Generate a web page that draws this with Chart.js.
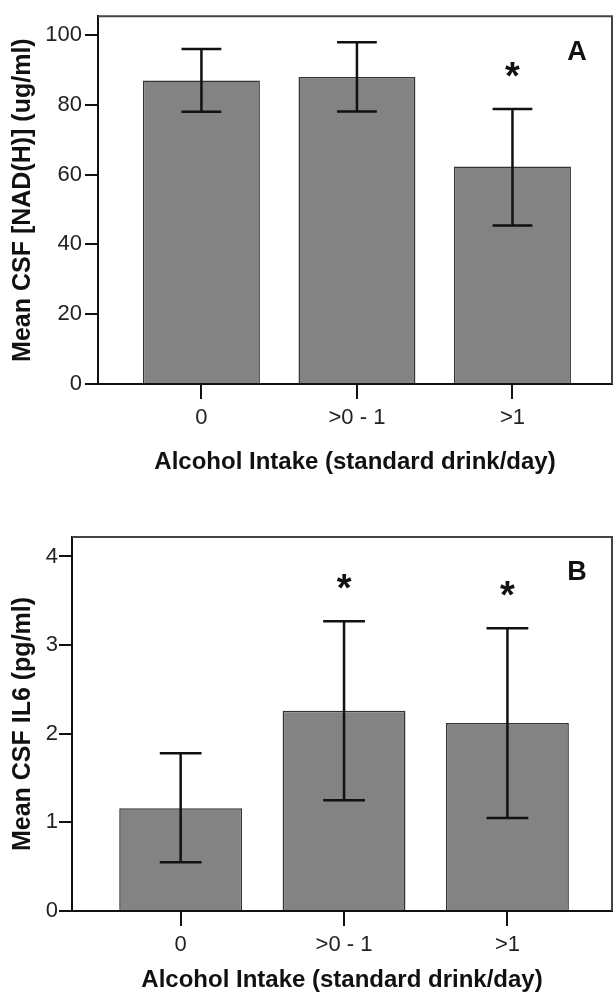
<!DOCTYPE html>
<html>
<head>
<meta charset="utf-8">
<script src="https://cdn.jsdelivr.net/npm/chart.js@4.4.1/dist/chart.umd.min.js"></script>
<style>
  html, body { margin: 0; padding: 0; background: #fff; }
  #wrap { position: relative; width: 613px; height: 1004px; }
  canvas { position: absolute; left: 0; }
  #nad { top: 0; }
  #il6 { top: 500px; }
</style>
</head>
<body>
<div id="wrap">
  <canvas id="nad" width="613" height="500"></canvas>
  <canvas id="il6" width="613" height="504"></canvas>
</div>
<script>
const categories = ['0', '>0 - 1', '>1']
const xTitle = 'Alcohol Intake (standard drink/day)'

// panel A: NAD(H)
const nadMean = [87.0, 88.0, 62.3]
const nadLow = [78.0, 78.1, 45.4]
const nadHigh = [96.0, 97.9, 78.8]
const nadSig = [false, false, true]
const nadTicks = [0, 20, 40, 60, 80, 100]

// panel B: IL6
const il6Mean = [1.16, 2.26, 2.12]
const il6Low = [0.55, 1.25, 1.05]
const il6High = [1.78, 3.27, 3.19]
const il6Sig = [false, true, true]
const il6Ticks = [0, 1, 2, 3, 4]

const tickFont = "'Liberation Sans Narrow', 'Liberation Sans', Arial, sans-serif"
const boldFont = "'Liberation Sans', Arial, sans-serif"

Chart.defaults.animation = false
Chart.defaults.color = '#222'

function panel(canvasId, p) {
    // error bars, stars, frame and panel letter
    var extras = {
        id: 'extras',
        afterDatasetsDraw(chart) {
            var ctx = chart.ctx
            var area = chart.chartArea
            var y = chart.scales.y
            var bars = chart.getDatasetMeta(0).data
            ctx.save()
            ctx.strokeStyle = '#111'
            ctx.lineWidth = 2.5
            ctx.fillStyle = '#111'
            ctx.textAlign = 'center'
            ctx.textBaseline = 'alphabetic'
            ctx.font = 'bold 38px ' + boldFont
            bars.forEach((bar, i) => {
                var half = bar.width * 0.17
                var yl = y.getPixelForValue(p.low[i])
                var yh = y.getPixelForValue(p.high[i])
                ctx.beginPath()
                ctx.moveTo(bar.x, yl); ctx.lineTo(bar.x, yh)
                ctx.moveTo(bar.x - half, yl); ctx.lineTo(bar.x + half, yl)
                ctx.moveTo(bar.x - half, yh); ctx.lineTo(bar.x + half, yh)
                ctx.stroke()
                if (p.sig[i]) {
                    ctx.fillText('*', bar.x, yh - 20)
                }
            })
            ctx.strokeStyle = '#444'
            ctx.lineWidth = 2
            ctx.beginPath()
            ctx.moveTo(area.left, area.top)
            ctx.lineTo(area.right, area.top)
            ctx.lineTo(area.right, area.bottom)
            ctx.stroke()
            ctx.font = 'bold 27px ' + boldFont
            ctx.textBaseline = 'middle'
            ctx.fillText(p.letter, area.right - 35, area.top + 36)
            ctx.restore()
        }
    }

    return new Chart(document.getElementById(canvasId), {
        type: 'bar',
        data: {
            datasets: [{
                data: categories.map((c, i) => ({ x: i, y: p.mean[i] })),
                backgroundColor: '#838383',
                borderColor: '#333',
                borderWidth: 1.5,
                barPercentage: 0.752,
                categoryPercentage: 1
            }]
        },
        options: {
            responsive: false,
            layout: { padding: { top: p.padTop, right: 1, left: 0, bottom: 0 } },
            plugins: { legend: { display: false }, tooltip: { enabled: false } },
            scales: {
                x: {
                    type: 'linear',
                    offset: false,
                    min: -0.665,
                    max: 2.64,
                    afterBuildTicks: scale => { scale.ticks = categories.map((c, i) => ({ value: i })) },
                    afterFit: scale => { scale.height = p.xHeight },
                    ticks: {
                        callback: v => categories[v],
                        font: { family: tickFont, size: 22 },
                        padding: 6,
                        maxRotation: 0
                    },
                    grid: { drawOnChartArea: false, offset: false, tickLength: 15, color: '#111', lineWidth: 2 },
                    border: { color: '#111', width: 2 },
                    title: {
                        display: true,
                        text: xTitle,
                        color: '#111',
                        font: { family: boldFont, size: 24, weight: 'bold' },
                        padding: { top: 0, bottom: p.xTitlePad }
                    }
                },
                y: {
                    min: 0,
                    max: p.yMax,
                    afterBuildTicks: scale => { scale.ticks = p.ticks.map(v => ({ value: v })) },
                    afterFit: scale => { scale.width = p.yWidth },
                    ticks: {
                        font: { family: tickFont, size: 22 },
                        padding: p.yTickPad
                    },
                    grid: { drawOnChartArea: false, tickLength: 13, color: '#111', lineWidth: 2 },
                    border: { color: '#111', width: 2 },
                    title: {
                        display: true,
                        text: p.yTitle,
                        color: '#111',
                        font: { family: boldFont, size: 25, weight: 'bold' },
                        padding: { top: 8, bottom: 0 }
                    }
                }
            }
        },
        plugins: [extras]
    })
}

panel('nad', {
    mean: nadMean, low: nadLow, high: nadHigh, sig: nadSig, ticks: nadTicks,
    yTitle: 'Mean CSF [NAD(H)] (ug/ml)', letter: 'A',
    yMax: 105.4, padTop: 11, yWidth: 98, xHeight: 116, xTitlePad: 23.6, yTickPad: 3
})

panel('il6', {
    mean: il6Mean, low: il6Low, high: il6High, sig: il6Sig, ticks: il6Ticks,
    yTitle: 'Mean CSF IL6 (pg/ml)', letter: 'B',
    yMax: 4.22, padTop: 37, yWidth: 72, xHeight: 93, xTitlePad: 9.6, yTickPad: 1
})
</script>
</body>
</html>
